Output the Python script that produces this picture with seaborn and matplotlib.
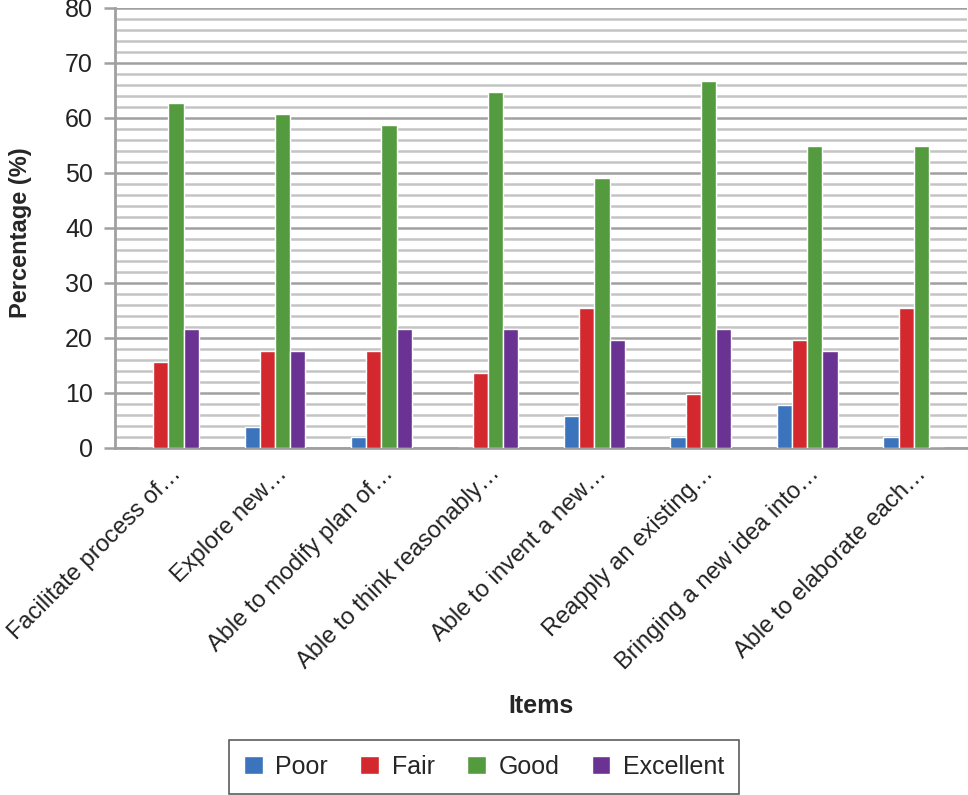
import pandas as pd
import numpy as np
import seaborn as sns
import matplotlib.pyplot as plt
import matplotlib.transforms as mtransforms
from matplotlib.ticker import MultipleLocator

# ******************
# data
# ******************
items = [
    'Facilitate process of…',
    'Explore new…',
    'Able to modify plan of…',
    'Able to think reasonably…',
    'Able to invent a new…',
    'Reapply an existing…',
    'Bringing a new idea into…',
    'Able to elaborate each…',
]
ratings = ['Poor', 'Fair', 'Good', 'Excellent']

poor = [0, 3.9, 2.0, 0, 5.9, 2.0, 7.8, 2.0]
fair = [15.7, 17.6, 17.6, 13.7, 25.5, 9.8, 19.6, 25.5]
good = [62.7, 60.8, 58.8, 64.7, 49.0, 66.7, 54.9, 54.9]
excellent = [21.6, 17.6, 21.6, 21.6, 19.6, 21.6, 17.6, 0]

colors = ['#3b73bd', '#d3282e', '#549b3f', '#6a3292']

# ******************
# long form
# ******************
df = pd.DataFrame({'Items': items, 'Poor': poor, 'Fair': fair,
                   'Good': good, 'Excellent': excellent})
df = df.melt(id_vars='Items', var_name='Rating', value_name='Percentage')

# ******************
# plot
# ******************
sns.set_theme(style='white')
plt.rcParams['font.family'] = ['Liberation Sans', 'DejaVu Sans']

fig = plt.figure(figsize=(9.68, 7.95), dpi=100)
ax = fig.add_axes([0.119, 0.4365, 0.88, 0.5535])

sns.barplot(data=df, x='Items', y='Percentage', hue='Rating',
            hue_order=ratings, palette=colors, width=0.57,
            saturation=1, ax=ax, legend=True, zorder=3)

ax.set_ylim(0, 80)
ax.set_xlim(-0.5, len(items) - 0.5)
ax.yaxis.set_major_locator(MultipleLocator(10))
ax.yaxis.set_minor_locator(MultipleLocator(2))
ax.grid(which='minor', axis='y', color='#c4c4c4', linewidth=1.8, zorder=0)
ax.grid(which='major', axis='y', color='#a0a0a0', linewidth=1.8, zorder=0)
ax.set_axisbelow(True)

for side in ['top', 'right']:
    ax.spines[side].set_visible(False)
for side in ['left', 'bottom']:
    ax.spines[side].set_color('#a0a0a0')
    ax.spines[side].set_linewidth(2)

ax.tick_params(axis='y', which='major', left=True, length=8, width=1.8,
               color='#a0a0a0', labelsize=18, pad=8, labelcolor='#222222')
ax.tick_params(axis='y', which='minor', left=False)
ax.tick_params(axis='x', bottom=False, labelsize=17, pad=10, labelcolor='#222222')

shift = mtransforms.ScaledTranslation(0.09, 0, fig.dpi_scale_trans)
for lbl in ax.get_xticklabels():
    lbl.set_rotation(45)
    lbl.set_ha('right')
    lbl.set_va('center')
    lbl.set_rotation_mode('anchor')
    lbl.set_transform(lbl.get_transform() + shift)

ax.set_ylabel('Percentage (%)', fontsize=17, fontweight='bold')
ax.yaxis.set_label_coords(-0.098, 0.49)
ax.set_xlabel('Items', fontsize=18, fontweight='bold')
ax.xaxis.set_label_coords(0.5, -0.56)

handles, labels = ax.get_legend_handles_labels()
ax.get_legend().remove()
leg = fig.legend(handles, labels, loc='lower center', bbox_to_anchor=(0.5, 0.0),
                 ncol=4, fontsize=18, frameon=True, fancybox=False,
                 handlelength=0.75, handleheight=0.75, columnspacing=1.3,
                 handletextpad=0.5, borderpad=0.6, borderaxespad=0.05)
leg.get_frame().set_edgecolor('#333333')
leg.get_frame().set_linewidth(1.2)

plt.savefig('out.png', dpi=100)
